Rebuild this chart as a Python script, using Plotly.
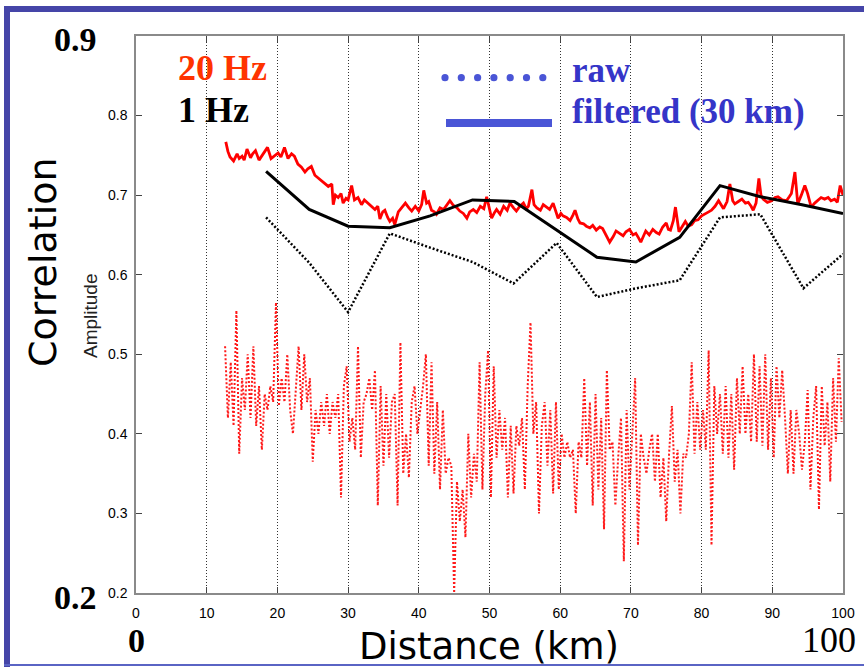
import numpy as np
import plotly.graph_objects as go

# ---------------- data ----------------
# 20 Hz raw (dashed red): sampled every 0.4 km starting at 12.6 km
raw20_x0 = 12.6
raw20_dx = 0.4
raw20_y = [
    0.51, 0.42, 0.49, 0.41, 0.555, 0.375, 0.47, 0.43, 0.50, 0.42,
    0.51, 0.41, 0.46, 0.38, 0.45, 0.43, 0.46, 0.44, 0.565, 0.435,
    0.47, 0.44, 0.50, 0.43, 0.40, 0.46, 0.51, 0.43, 0.50, 0.44,
    0.47, 0.365, 0.43, 0.40, 0.44, 0.41, 0.45, 0.40, 0.44, 0.42,
    0.45, 0.32, 0.46, 0.485, 0.39, 0.42, 0.38, 0.51, 0.37, 0.44,
    0.45, 0.47, 0.43, 0.48, 0.31, 0.46, 0.36, 0.45, 0.37, 0.44,
    0.45, 0.31, 0.515, 0.35, 0.40, 0.345, 0.44, 0.46, 0.40, 0.43,
    0.46, 0.50, 0.36, 0.49, 0.35, 0.44, 0.33, 0.43, 0.35, 0.37,
    0.36, 0.20, 0.34, 0.29, 0.33, 0.27, 0.40, 0.32, 0.375, 0.34,
    0.49, 0.33, 0.45, 0.505, 0.32, 0.485, 0.37, 0.43, 0.38, 0.42,
    0.32, 0.41, 0.325, 0.41, 0.385, 0.42, 0.33, 0.46, 0.54, 0.40,
    0.44, 0.30, 0.41, 0.44, 0.36, 0.43, 0.325, 0.44, 0.33, 0.40,
    0.37, 0.39, 0.37, 0.38, 0.30, 0.39, 0.37, 0.47, 0.36, 0.44,
    0.31, 0.45, 0.33, 0.42, 0.28, 0.48, 0.38, 0.39, 0.31, 0.37,
    0.42, 0.24, 0.43, 0.33, 0.41, 0.47, 0.26, 0.40, 0.37, 0.35,
    0.38, 0.40, 0.34, 0.40, 0.32, 0.37, 0.29, 0.375, 0.435, 0.34,
    0.38, 0.30, 0.375, 0.37, 0.40, 0.49, 0.375, 0.44, 0.38, 0.43,
    0.38, 0.505, 0.26, 0.46, 0.40, 0.45, 0.375, 0.46, 0.37, 0.45,
    0.355, 0.47, 0.40, 0.485, 0.40, 0.45, 0.39, 0.50, 0.39, 0.485,
    0.385, 0.50, 0.38, 0.47, 0.37, 0.485, 0.42, 0.48, 0.42, 0.35,
    0.43, 0.35, 0.43, 0.40, 0.355, 0.39, 0.455, 0.33, 0.42, 0.46,
    0.305, 0.46, 0.385, 0.44, 0.34, 0.47, 0.39, 0.495, 0.415,
]

# 20 Hz filtered (solid red)
filt20_x = [
    12.7, 13.0, 13.3, 13.8, 14.3, 14.6, 15.0, 15.3, 15.7, 16.2,
    16.5, 16.9, 17.4, 17.8, 18.1, 18.6, 19.1, 19.6, 20.1, 20.5,
    21.0, 21.5, 22.0, 22.4, 22.9, 23.4, 23.9, 24.3, 24.8, 25.3,
    25.7, 26.2, 26.7, 27.2, 27.7, 27.9, 28.2, 28.6, 29.0, 29.3,
    29.7, 30.0, 30.5, 30.9, 31.4, 31.9, 32.3, 32.8, 33.3, 33.8,
    34.2, 34.5, 34.9, 35.2, 35.6, 35.9, 36.3, 36.6, 37.1, 37.6,
    38.1, 38.6, 39.0, 39.5, 40.0, 40.4, 40.7, 41.1, 41.4, 41.8,
    42.2, 42.5, 43.0, 43.5, 44.0, 44.4, 44.9, 45.4, 45.8, 46.3,
    46.8, 47.2, 47.7, 48.2, 48.7, 49.2, 49.6, 50.0, 50.3, 50.7,
    51.0, 51.5, 52.0, 52.5, 52.9, 53.4, 53.8, 54.3, 54.8, 55.2,
    55.5, 56.0, 56.3, 56.7, 57.2, 57.6, 58.1, 58.5, 59.0, 59.4,
    59.7, 60.1, 60.4, 60.9, 61.4, 61.8, 62.1, 62.5, 62.8, 63.3,
    63.7, 64.2, 64.6, 65.1, 65.6, 66.0, 66.5, 67.0, 67.5, 67.9,
    68.4, 68.9, 69.3, 69.8, 70.3, 70.7, 71.1, 71.4, 71.8, 72.1,
    72.6, 73.1, 73.6, 74.0, 74.5, 75.0, 75.3, 75.6, 76.0, 76.3,
    76.8, 77.2, 77.7, 78.1, 78.6, 79.0, 79.5, 80.0, 80.5, 81.0,
    81.4, 81.9, 82.4, 82.8, 83.1, 83.6, 84.0, 84.4, 84.7, 85.2,
    85.7, 86.2, 86.6, 87.0, 87.3, 87.7, 88.1, 88.4, 88.7, 89.3,
    89.9, 90.4, 90.8, 91.4, 92.0, 92.4, 92.7, 93.2, 93.6, 94.1,
    94.6, 95.0, 95.5, 96.0, 96.4, 96.9, 97.4, 97.9, 98.3, 98.8,
    99.2, 99.6, 100.0,
]
filt20_y = [
    0.767, 0.755, 0.748, 0.743, 0.752, 0.746, 0.749, 0.744, 0.758, 0.747,
    0.752, 0.756, 0.744, 0.749, 0.754, 0.760, 0.746, 0.750, 0.753, 0.748,
    0.760, 0.746, 0.752, 0.749, 0.739, 0.735, 0.729, 0.733, 0.736, 0.725,
    0.722, 0.718, 0.715, 0.711, 0.714, 0.688, 0.700, 0.697, 0.702, 0.690,
    0.696, 0.694, 0.712, 0.694, 0.697, 0.688, 0.694, 0.690, 0.686, 0.682,
    0.686, 0.670, 0.679, 0.681, 0.672, 0.667, 0.671, 0.663, 0.679, 0.684,
    0.690, 0.684, 0.680, 0.686, 0.680, 0.688, 0.706, 0.690, 0.692, 0.681,
    0.679, 0.676, 0.684, 0.682, 0.688, 0.693, 0.687, 0.684, 0.680, 0.677,
    0.671, 0.679, 0.682, 0.678, 0.686, 0.683, 0.698, 0.684, 0.671, 0.678,
    0.682, 0.676, 0.686, 0.681, 0.690, 0.684, 0.680, 0.686, 0.690, 0.683,
    0.686, 0.707, 0.688, 0.684, 0.681, 0.688, 0.685, 0.682, 0.690, 0.680,
    0.671, 0.677, 0.674, 0.672, 0.668, 0.675, 0.681, 0.670, 0.665, 0.664,
    0.661, 0.659, 0.662, 0.656, 0.660, 0.658, 0.650, 0.641, 0.648, 0.655,
    0.652, 0.649, 0.654, 0.657, 0.650, 0.652, 0.646, 0.641, 0.649, 0.655,
    0.650, 0.657, 0.653, 0.651, 0.660, 0.665, 0.657, 0.656, 0.668, 0.685,
    0.654, 0.660, 0.667, 0.661, 0.663, 0.668, 0.669, 0.674, 0.677, 0.679,
    0.681, 0.686, 0.693, 0.688, 0.683, 0.692, 0.714, 0.693, 0.689, 0.692,
    0.695, 0.690, 0.691, 0.686, 0.681, 0.690, 0.721, 0.700, 0.695, 0.691,
    0.693, 0.697, 0.698, 0.694, 0.693, 0.698, 0.702, 0.729, 0.689, 0.700,
    0.712, 0.702, 0.685, 0.690, 0.693, 0.697, 0.695, 0.697, 0.693, 0.695,
    0.691, 0.712, 0.700,
]

# 1 Hz raw (dotted black)
raw1_x = [18.4, 24.5, 30.0, 35.9, 41.6, 47.6, 53.4, 59.5, 65.2, 70.8, 76.9, 82.6, 88.3, 94.4, 100.0]
raw1_y = [0.672, 0.615, 0.553, 0.652, 0.634, 0.616, 0.589, 0.640, 0.572, 0.583, 0.593, 0.672, 0.676, 0.583, 0.626]

# 1 Hz filtered (solid black)
filt1_x = [18.4, 24.5, 30.0, 35.9, 41.6, 47.6, 53.5, 59.4, 65.2, 70.7, 76.9, 82.6, 88.3, 94.2, 100.0]
filt1_y = [0.730, 0.682, 0.661, 0.659, 0.674, 0.694, 0.692, 0.657, 0.622, 0.616, 0.647, 0.712, 0.698, 0.688, 0.677]

x_ticks = [0, 10, 20, 30, 40, 50, 60, 70, 80, 90, 100]
y_ticks = [0.2, 0.3, 0.4, 0.5, 0.6, 0.7, 0.8]

raw20_x = raw20_x0 + raw20_dx * np.arange(len(raw20_y))

# ---------------- figure ----------------
W, H = 864, 667
PL, PR, PT, PB = 136, 843, 36, 593  # plot box in pixels


def px(x):
    return x / W


def py(y):
    return 1 - y / H


fig = go.Figure()

fig.add_trace(go.Scatter(x=raw20_x, y=raw20_y, mode="lines",
                         line=dict(color="#ff1a1a", width=2.0, dash="2px,2px"),
                         showlegend=False))
fig.add_trace(go.Scatter(x=raw1_x, y=raw1_y, mode="lines",
                         line=dict(color="black", width=2.5, dash="2px,2px"),
                         showlegend=False))
fig.add_trace(go.Scatter(x=filt20_x, y=filt20_y, mode="lines",
                         line=dict(color="#ff0000", width=2.8),
                         showlegend=False))
fig.add_trace(go.Scatter(x=filt1_x, y=filt1_y, mode="lines",
                         line=dict(color="black", width=3),
                         showlegend=False))

axis_common = dict(
    showline=True, linecolor="#8a8a8a", linewidth=1.5, mirror="ticks",
    ticks="inside", ticklen=6, tickcolor="#444", tickwidth=1,
    tickfont=dict(family="Liberation Sans, Arial, sans-serif", size=14, color="black"),
    zeroline=False, automargin=False,
)

fig.update_xaxes(range=[0, 100], tickvals=x_ticks, ticktext=[str(v) for v in x_ticks],
                 domain=[px(PL), px(PR)],
                 showgrid=True, gridcolor="#333", gridwidth=1, griddash="1px,2px",
                 ticklabelstandoff=6, **axis_common)
fig.update_yaxes(range=[0.2, 0.9], tickvals=y_ticks, ticktext=[f"{v:.1f}" for v in y_ticks],
                 domain=[py(PB), py(PT)],
                 showgrid=False, ticklabelstandoff=4, **axis_common)

serif = "Liberation Serif, Times New Roman, serif"
comic = "DejaVu Sans, sans-serif"
blue_txt = "#3535c8"

annos = [
    dict(text="<b>0.9</b>", x=px(75), y=py(39), xanchor="center", yanchor="middle",
         font=dict(family=serif, size=34, color="black")),
    dict(text="<b>0.2</b>", x=px(75), y=py(597), xanchor="center", yanchor="middle",
         font=dict(family=serif, size=34, color="black")),
    dict(text="<b>0</b>", x=px(136), y=py(640), xanchor="center", yanchor="middle",
         font=dict(family=serif, size=34, color="black")),
    dict(text="100", x=px(829), y=py(640), xanchor="center", yanchor="middle",
         font=dict(family=serif, size=36, color="black")),
    dict(text="<b>20 Hz</b>", x=px(176), y=py(68), xanchor="left", yanchor="middle",
         font=dict(family=serif, size=36, color="#ff3300")),
    dict(text="<b>1 Hz</b>", x=px(176), y=py(110), xanchor="left", yanchor="middle",
         font=dict(family=serif, size=36, color="black")),
    dict(text="<b>raw</b>", x=px(570), y=py(71), xanchor="left", yanchor="middle",
         font=dict(family=serif, size=35, color=blue_txt)),
    dict(text="<b>filtered (30 km)</b>", x=px(570), y=py(112), xanchor="left", yanchor="middle",
         font=dict(family=serif, size=35, color=blue_txt)),
    dict(text="Distance (km)", x=px(489), y=py(646), xanchor="center", yanchor="middle",
         font=dict(family=comic, size=37, color="black")),
    dict(text="Correlation", x=px(43), y=py(262), xanchor="center", yanchor="middle",
         textangle=-90, font=dict(family=comic, size=38, color="black")),
    dict(text="Amplitude", x=px(91), y=py(316), xanchor="center", yanchor="middle",
         textangle=-90, font=dict(family="Liberation Sans, Arial, sans-serif", size=19, color="#222")),
]
for a in annos:
    a.update(xref="paper", yref="paper", showarrow=False)

shapes = []
# slide frame
border = "#4545a8"
shapes.append(dict(type="rect", x0=px(4), x1=px(864), y0=py(12), y1=py(6),
                   fillcolor=border, line=dict(width=0)))
shapes.append(dict(type="rect", x0=px(4), x1=px(10), y0=py(667), y1=py(6),
                   fillcolor=border, line=dict(width=0)))
shapes.append(dict(type="rect", x0=px(4), x1=px(864), y0=py(666), y1=py(664),
                   fillcolor="#5a64c4", line=dict(width=0)))
# legend glyphs
leg_blue = "#4a55d6"
for i in range(7):
    cx = 445 + i * 16.3
    shapes.append(dict(type="circle", x0=px(cx - 3.6), x1=px(cx + 3.6),
                       y0=py(77.7 + 3.6), y1=py(77.7 - 3.6),
                       fillcolor=leg_blue, line=dict(width=0)))
shapes.append(dict(type="rect", x0=px(446), x1=px(552), y0=py(127), y1=py(119),
                   fillcolor=leg_blue, line=dict(width=0)))
for s in shapes:
    s.update(xref="paper", yref="paper", layer="above")

fig.update_layout(
    width=W, height=H,
    margin=dict(l=0, r=0, t=0, b=0, pad=0),
    paper_bgcolor="white", plot_bgcolor="white",
    showlegend=False,
    annotations=annos,
    shapes=shapes,
)

fig.write_html("out.html")
